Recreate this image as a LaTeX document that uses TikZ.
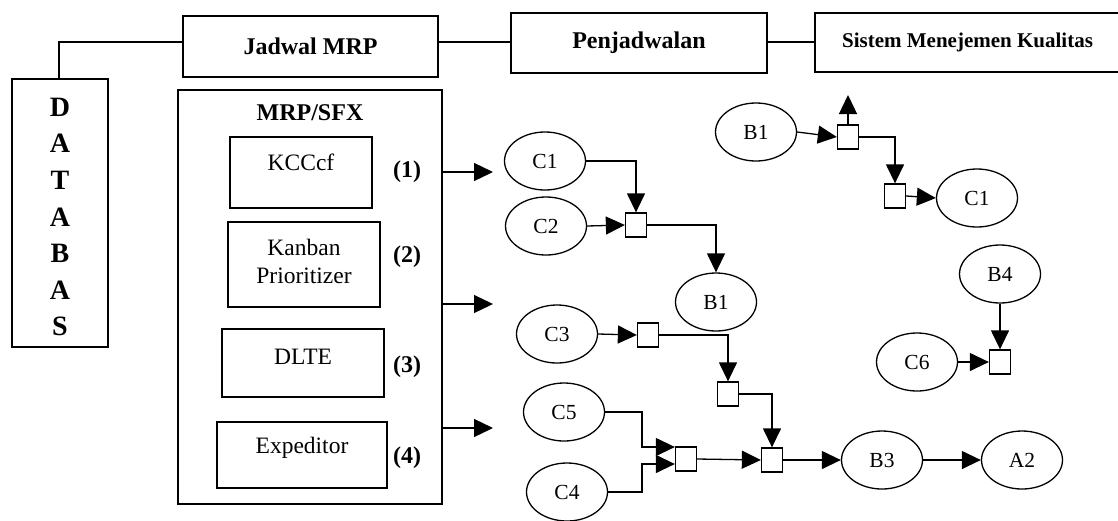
\documentclass[tikz,border=0pt]{standalone}
\usepackage{fontspec}
\setmainfont{Liberation Serif}
\usetikzlibrary{arrows.meta,shapes.geometric,calc}
\begin{document}
\begin{tikzpicture}[x=1pt,y=-1pt,
 box/.style={draw,line width=1.4pt,inner sep=0pt},
 ell/.style={draw,ellipse,line width=1.3pt,minimum width=81pt,minimum height=58pt,inner sep=0pt,font=\fontsize{21.5}{24}\selectfont},
 sq/.style={draw,line width=1.3pt,minimum width=21pt,minimum height=24pt,inner sep=0pt},
 arr/.style={line width=1.3pt,-{Triangle[length=19pt,width=18pt]}},
 ln/.style={line width=1.3pt},
 bt/.style={font=\fontsize{24}{26}\selectfont\bfseries},
 rt/.style={font=\fontsize{23.5}{28}\selectfont,align=center},
]
\useasboundingbox (0,0) rectangle (1118,520);

% top row
\node[box,bt,minimum width=255pt,minimum height=61pt] (jad) at (310.5,46.5) {Jadwal MRP};
\node[box,bt,minimum width=256pt,minimum height=60pt] (pen) at (639,43) {Penjadwalan};
\node[box,font=\fontsize{21}{24}\selectfont\bfseries,minimum width=305pt,minimum height=59pt] (smk) at (967.5,42.5) {Sistem Menejemen Kualitas};

% database
\node[box,minimum width=96pt,minimum height=268pt] (db) at (60,213) {};
\node[font=\fontsize{28}{36.6}\selectfont\bfseries,align=center] (dbt) at (60,217) {D\\A\\T\\A\\B\\A\\S};

\coordinate (k0) at (59,42);
\draw[ln] (jad.west |- k0) -- (k0) -- (db.north -| k0);
\draw[ln] (jad.east |- k0) -- (pen.west |- k0);
\draw[ln] (pen.east |- k0) -- (smk.west |- k0);

% MRP/SFX
\node[box,minimum width=264pt,minimum height=414pt] (mrp) at (310,297) {};
\node[bt] (mrpt) at (310,113) {MRP/SFX};
\node[box,minimum width=142pt,minimum height=71pt] (kc) at (301,172.5) {};
\node[rt] (kct) at (301,162) {KCCcf};
\node[box,minimum width=152pt,minimum height=85pt] (kb) at (304,264.5) {};
\node[rt] (kbt) at (304,261) {Kanban\\Prioritizer};
\node[box,minimum width=162pt,minimum height=68pt] (dl) at (303,363) {};
\node[rt] (dlt) at (303,357) {DLTE};
\node[box,minimum width=170pt,minimum height=66pt] (ex) at (302,455) {};
\node[rt] (ext) at (302,448) {Expeditor};
\node[bt] (n1) at (407,172) {(1)};
\node[bt] (n2) at (407,257) {(2)};
\node[bt] (n3) at (407,367) {(3)};
\node[bt] (n4) at (407,458) {(4)};

\coordinate (a1) at (493,172);
\coordinate (a2) at (493,304);
\coordinate (a3) at (493,428);
\draw[arr] (mrp.east |- a1) -- (a1);
\draw[arr] (mrp.east |- a2) -- (a2);
\draw[arr] (mrp.east |- a3) -- (a3);

% ellipses
\node[ell] (c1a) at (545,161) {C1};
\node[ell] (c2) at (546,226) {C2};
\node[ell] (b1m) at (716,302) {B1};
\node[ell] (c3) at (557,334) {C3};
\node[ell] (c5) at (564,412) {C5};
\node[ell] (c4) at (567,492) {C4};
\node[ell] (b1t) at (756,132) {B1};
\node[ell] (c1t) at (977,198) {C1};
\node[ell] (b4) at (1000,274) {B4};
\node[ell] (c6) at (917,362) {C6};
\node[ell] (b3) at (882,460) {B3};
\node[ell] (a2n) at (1022,460) {A2};

% squares
\node[sq] (s1) at (636,225) {};
\node[sq] (s2) at (648,335) {};
\node[sq] (s3) at (728,394) {};
\node[sq] (s4) at (686,459) {};
\node[sq] (s5) at (772,460) {};
\node[sq] (s6) at (1000,362) {};
\node[sq] (s7) at (848,137) {};
\node[sq] (s8) at (895,196) {};

% connectors
\draw[arr] (c1a.east) -| (s1.north);
\draw[arr] (c2.east) -- (s1.west);
\draw[arr] (s1.east) -| (b1m.north);
\draw[arr] (c3.east) -- (s2.west);
\draw[arr] (s2.east) -| (s3.north);
\draw[arr] (s3.east) -| (s5.north);
\coordinate (k5) at (642,447);
\coordinate (k4) at (642,464);
\draw[arr] (c5.east) -| (k5) -- (k5 -| s4.west);
\draw[arr] (c4.east) -| (k4) -- (k4 -| s4.west);
\draw[arr] (s4.east) -- (s5.west);
\draw[arr] (s5.east) -- (b3.west);
\draw[arr] (b3.east) -- (a2n.west);
\draw[arr] (b4.south) -- (s6.north);
\draw[arr] (c6.east) -- (s6.west);
\draw[arr] (b1t.east) -- (s7.west);
\coordinate (up) at (848,95);
\draw[arr] (s7.north) -- (up);
\draw[arr] (s7.east) -| (s8.north);
\draw[arr] (s8.east) -- (c1t.west);
\end{tikzpicture}
\end{document}
